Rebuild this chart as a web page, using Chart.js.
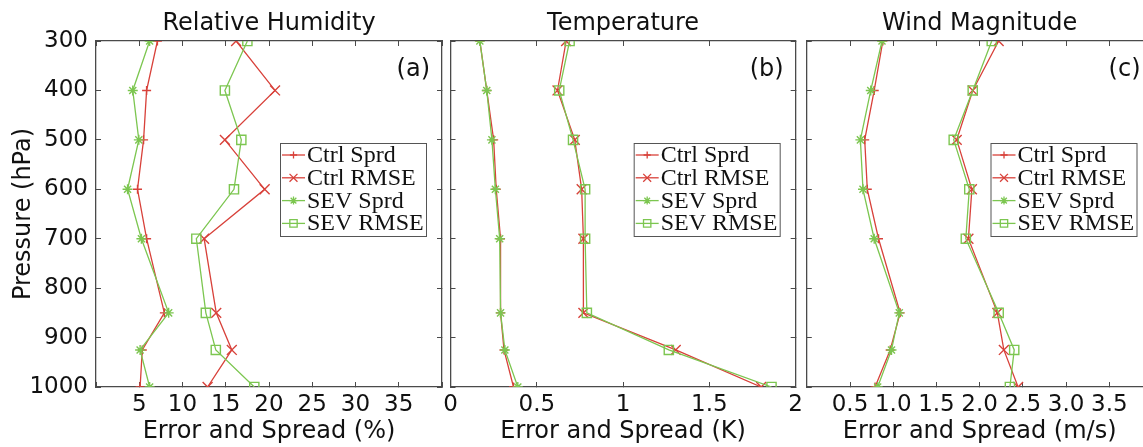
<!DOCTYPE html>
<html><head><meta charset="utf-8">
<script src="https://cdn.jsdelivr.net/npm/chart.js@4.4.1/dist/chart.umd.min.js"></script>
<style>
html,body{margin:0;padding:0;background:#fff;overflow:hidden;width:1143px;height:447px;position:relative;}
canvas{position:absolute;top:0;}
</style></head><body>
<canvas id="cA" width="451" height="447" style="left:0px"></canvas>
<canvas id="cB" width="378" height="447" style="left:434px"></canvas>
<canvas id="cC" width="365" height="447" style="left:797px"></canvas>
<script>
// ---------- data ----------
const pressureLevels = [300, 400, 500, 600, 700, 850, 925, 1000];
const seriesLabels = ['Ctrl Sprd', 'Ctrl RMSE', 'SEV Sprd', 'SEV RMSE'];

const rhCtrlSprd = [7.1, 5.85, 5.5, 4.8, 5.85, 7.9, 5.35, 5.1];
const rhCtrlRmse = [16.2, 20.7, 14.9, 19.5, 12.5, 13.9, 15.7, 12.9];
const rhSevSprd  = [6.2, 4.25, 4.95, 3.65, 5.25, 8.4, 5.1, 6.2];
const rhSevRmse  = [17.5, 14.9, 16.8, 15.95, 11.6, 12.7, 13.85, 18.3];

const tCtrlSprd = [0.17, 0.21, 0.25, 0.265, 0.29, 0.29, 0.31, 0.365];
const tCtrlRmse = [0.67, 0.62, 0.72, 0.76, 0.77, 0.77, 1.305, 1.80];
const tSevSprd  = [0.17, 0.21, 0.24, 0.26, 0.285, 0.29, 0.315, 0.39];
const tSevRmse  = [0.69, 0.63, 0.71, 0.78, 0.78, 0.79, 1.265, 1.86];

const wCtrlSprd = [0.88, 0.78, 0.67, 0.70, 0.83, 1.08, 0.965, 0.79];
const wCtrlRmse = [2.22, 1.92, 1.735, 1.91, 1.87, 2.205, 2.28, 2.445];
const wSevSprd  = [0.87, 0.74, 0.62, 0.65, 0.78, 1.07, 0.98, 0.82];
const wSevRmse  = [2.14, 1.92, 1.70, 1.88, 1.84, 2.22, 2.40, 2.35];

const rhTicks = [0, 40, 5];
const tTicks = [0, 2, 0.5];
const wTicks = [0, 4, 0.5];

// ---------- styles ----------
const RED = '#d8413a', GREEN = '#7cc650';
const seriesStyle = [
  {color: RED,   pointStyle: 'cross',    radius: 4.5, order: 1},
  {color: RED,   pointStyle: 'crossRot', radius: 7,   order: 1},
  {color: GREEN, pointStyle: 'star',     radius: 5,   order: 0},
  {color: GREEN, pointStyle: 'rect',     radius: 6.5, order: 0}
];
const SANS = '"DejaVu Sans", sans-serif';
const SERIF = '"Liberation Serif", "Times New Roman", serif';
const AXIS_COLOR = '#4a4a4a';
const TEXT_COLOR = '#111111';

const decor = {
  id: 'decor',
  afterDraw(chart, args, o) {
    const ctx = chart.ctx, ca = chart.chartArea;
    ctx.save();
    ctx.fillStyle = TEXT_COLOR;
    ctx.font = '24px ' + SANS;
    ctx.textAlign = 'center';
    ctx.textBaseline = 'alphabetic';
    ctx.fillText(o.title, (ca.left + ca.right) / 2, 30);
    ctx.textAlign = 'right';
    ctx.fillText(o.letter, ca.right - 12, ca.top + 35);
    // legend
    const w = 146, h = 93;
    const bx = ca.right - 16 - w, by = ca.top + 102;
    ctx.fillStyle = '#fff';
    ctx.fillRect(bx, by, w, h);
    ctx.strokeStyle = '#555';
    ctx.lineWidth = 1;
    ctx.strokeRect(bx + 0.5, by + 0.5, w, h);
    chart.data.datasets.forEach((ds, i) => {
      const cy = by + 12 + i * 22.8;
      const st = seriesStyle[i];
      ctx.strokeStyle = st.color;
      ctx.lineWidth = 1.3;
      ctx.beginPath();
      ctx.moveTo(bx + 2, cy);
      ctx.lineTo(bx + 25, cy);
      ctx.stroke();
      ctx.fillStyle = 'rgba(0,0,0,0)';
      Chart.helpers.drawPoint(ctx, {pointStyle: st.pointStyle, rotation: 0, radius: st.radius * 0.8, borderWidth: 1.2}, bx + 13.5, cy);
      ctx.fillStyle = TEXT_COLOR;
      ctx.font = '24px ' + SERIF;
      ctx.textAlign = 'left';
      ctx.textBaseline = 'alphabetic';
      ctx.fillText(ds.label, bx + 27, cy + 7);
    });
    ctx.restore();
  }
};

function makePanel(id, cfg) {
  const datasets = cfg.values.map((vals, i) => ({
    label: seriesLabels[i],
    data: vals.map((v, j) => ({x: v, y: pressureLevels[j]})),
    showLine: true,
    borderColor: seriesStyle[i].color,
    backgroundColor: 'rgba(0,0,0,0)',
    borderWidth: 1.3,
    pointStyle: seriesStyle[i].pointStyle,
    pointRadius: seriesStyle[i].radius,
    pointBorderColor: seriesStyle[i].color,
    pointBackgroundColor: 'rgba(0,0,0,0)',
    pointBorderWidth: 1.4,
    order: seriesStyle[i].order,
    tension: 0
  }));
  const grid = {drawOnChartArea: false, drawTicks: true, tickLength: -5, color: AXIS_COLOR, lineWidth: 1};
  const border = {display: true, color: AXIS_COLOR, width: 1.3};
  const [xmin, xmax, xstep] = cfg.xTicks;
  new Chart(document.getElementById(id), {
    type: 'scatter',
    data: {datasets},
    options: {
      responsive: false, animation: false, devicePixelRatio: 1,
      layout: {padding: {top: 41, right: cfg.rightPad, left: 0, bottom: 0}},
      plugins: {legend: {display: false}, tooltip: {enabled: false}, decor: {title: cfg.title, letter: cfg.letter}},
      scales: {
        x: {
          type: 'linear', position: 'bottom', min: xmin, max: xmax,
          ticks: {stepSize: xstep, autoSkip: false, maxRotation: 0, padding: 9,
                  font: {family: SANS, size: 23}, color: TEXT_COLOR,
                  callback: cfg.xLabel},
          grid, border,
          title: {display: true, text: cfg.xTitle, font: {family: SANS, size: 24}, color: TEXT_COLOR, padding: {top: 0, bottom: 1}},
          afterFit(s) { s.height = 60; }
        },
        x2: {
          type: 'linear', position: 'top', min: xmin, max: xmax,
          ticks: {display: false, stepSize: xstep}, grid, border,
          afterFit(s) { s.height = 0; }
        },
        y: {
          type: 'linear', position: 'left', reverse: true, min: 300, max: 1000,
          ticks: {display: cfg.yLabels, stepSize: 100, padding: 13, font: {family: SANS, size: 23}, color: TEXT_COLOR,
                  callback: v => String(v)},
          grid, border,
          title: {display: cfg.yLabels, text: 'Pressure (hPa)', font: {family: SANS, size: 24}, color: TEXT_COLOR, padding: {top: 9.5, bottom: 0}},
          afterFit(s) { s.width = cfg.yWidth; }
        },
        y2: {
          type: 'linear', position: 'right', reverse: true, min: 300, max: 1000,
          ticks: {display: false, stepSize: 100}, grid, border,
          afterFit(s) { s.width = 0; }
        }
      }
    },
    plugins: [decor]
  });
}

makePanel('cA', {
  values: [rhCtrlSprd, rhCtrlRmse, rhSevSprd, rhSevRmse],
  xTicks: rhTicks, xLabel: v => (v === 0 || v === 40) ? '' : String(v),
  xTitle: 'Error and Spread (%)', title: 'Relative Humidity', letter: '(a)',
  yLabels: true, yWidth: 96, rightPad: 9
});
makePanel('cB', {
  values: [tCtrlSprd, tCtrlRmse, tSevSprd, tSevRmse],
  xTicks: tTicks, xLabel: v => String(v),
  xTitle: 'Error and Spread (K)', title: 'Temperature', letter: '(b)',
  yLabels: false, yWidth: 16.5, rightPad: 16
});
makePanel('cC', {
  values: [wCtrlSprd, wCtrlRmse, wSevSprd, wSevRmse],
  xTicks: wTicks, xLabel: v => (v === 0 || v === 4) ? '' : v.toFixed(1),
  xTitle: 'Error and Spread (m/s)', title: 'Wind Magnitude', letter: '(c)',
  yLabels: false, yWidth: 9.8, rightPad: 9.5
});
</script>
</body></html>
